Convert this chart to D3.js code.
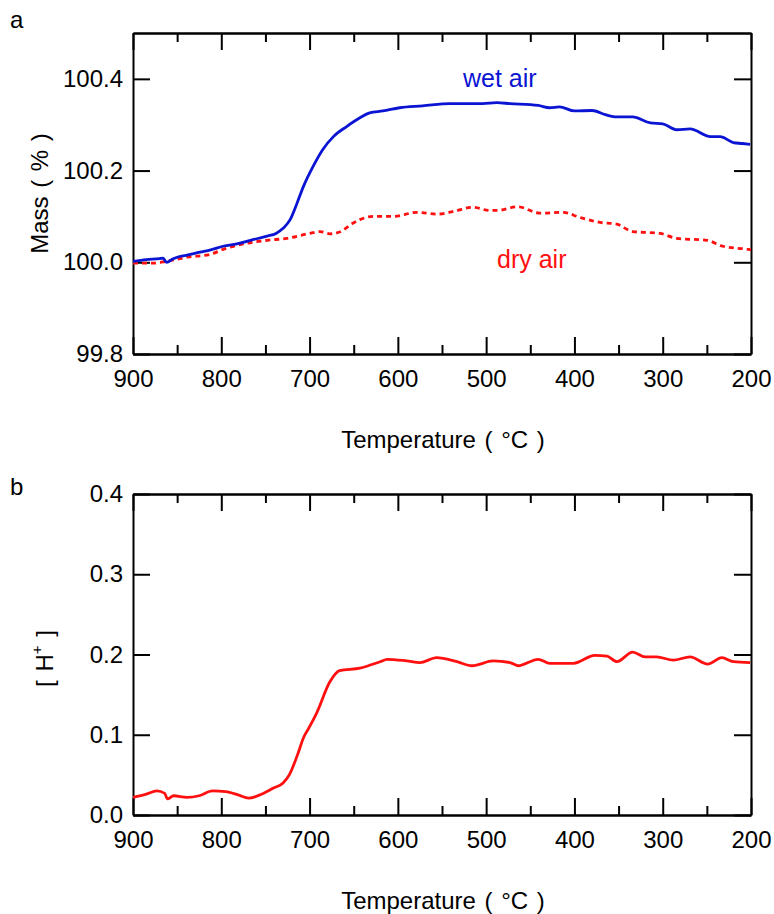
<!DOCTYPE html>
<html lang="en">
<head>
<meta charset="UTF-8">
<title>Mass and proton concentration vs temperature</title>
<script src="https://cdn.jsdelivr.net/npm/d3@7"></script>
<style>
    body { margin: 0; background: #fff; }
    svg { display: block; font-family: "Liberation Sans", Arial, sans-serif; }
</style>
</head>
<body>
<div id="chart"></div>
<script>

    // Panel a: mass (%) in wet air and dry air
    const wetTemp = [900, 885, 870, 866, 862, 855, 850, 840, 824, 812, 798, 780, 767, 748, 738, 730, 722, 714, 707,
        696, 685, 673, 658, 643, 632, 617, 598, 572, 541, 504, 488, 473, 441, 428, 417, 400, 380, 365, 352, 334,
        314, 300, 284, 269, 246, 235, 220, 210, 201];
    const wetMass = [100.002, 100.006, 100.008, 100.009, 100.000, 100.007, 100.011, 100.015, 100.022, 100.027,
        100.035, 100.041, 100.048, 100.057, 100.063, 100.074, 100.093, 100.130, 100.165, 100.209, 100.246, 100.274,
        100.296, 100.315, 100.326, 100.330, 100.337, 100.341, 100.346, 100.346, 100.348, 100.346, 100.342, 100.337,
        100.339, 100.330, 100.331, 100.322, 100.317, 100.317, 100.304, 100.302, 100.289, 100.291, 100.274, 100.274,
        100.261, 100.259, 100.257];

    const dryTemp = [900, 877, 862, 839, 813, 798, 775, 748, 726, 700, 688, 677, 666, 651, 643, 628, 605, 578, 556,
        537, 515, 496, 488, 464, 439, 413, 394, 371, 352, 334, 303, 284, 250, 232, 203, 200];
    const dryMass = [99.998, 99.998, 100.002, 100.011, 100.017, 100.028, 100.040, 100.048, 100.052, 100.063,
        100.067, 100.062, 100.066, 100.085, 100.093, 100.100, 100.100, 100.109, 100.105, 100.111, 100.120, 100.113,
        100.113, 100.121, 100.107, 100.109, 100.098, 100.087, 100.083, 100.067, 100.063, 100.052, 100.048, 100.035,
        100.028, 100.027];

    // Panel b: [H+]
    const hTemp = [900, 885, 873, 864, 861, 854, 839, 825, 810, 795, 781, 769, 752, 742, 730, 723, 713, 707, 701,
        692, 677, 666, 643, 620, 612, 590, 575, 556, 533, 516, 492, 473, 464, 441, 428, 401, 377, 363, 352, 334,
        320, 307, 288, 269, 249, 233, 220, 201];
    const hConc = [0.022, 0.026, 0.030, 0.027, 0.020, 0.024, 0.022, 0.024, 0.030, 0.029, 0.025, 0.021, 0.027,
        0.033, 0.040, 0.050, 0.077, 0.096, 0.108, 0.127, 0.166, 0.180, 0.183, 0.191, 0.194, 0.192, 0.190, 0.196,
        0.191, 0.186, 0.192, 0.190, 0.186, 0.194, 0.189, 0.189, 0.199, 0.198, 0.191, 0.203, 0.197, 0.197, 0.193,
        0.197, 0.188, 0.196, 0.191, 0.190];

    // ticks
    const tempMajor = [900, 800, 700, 600, 500, 400, 300, 200];
    const tempMinor = [850, 750, 650, 550, 450, 350, 250];
    const massTicks = [99.8, 100.0, 100.2, 100.4];
    const hTicks = [0.0, 0.1, 0.2, 0.3, 0.4];

    const width = 774, height = 914;
    const left = 133, right = 751;
    const fontSize = 24;

    const svg = d3.select("#chart").append("svg")
        .attr("width", width)
        .attr("height", height);

    const x = d3.scaleLinear().domain([900, 200]).range([left, right]);

    function panel(cfg) {
        const y = d3.scaleLinear().domain(cfg.domain).range([cfg.bottom, cfg.top]);
        const g = svg.append("g");

        const styleAxis = sel => {
            sel.selectAll("path, line").attr("stroke", "#000").attr("stroke-width", 2);
            sel.selectAll("text").attr("font-size", fontSize).attr("fill", "#000")
                .attr("font-family", "Liberation Sans, Arial, sans-serif");
        };

        // x axes (bottom with labels, top mirrored), ticks inward
        g.append("g").attr("transform", `translate(0,${cfg.bottom})`)
            .call(d3.axisBottom(x).tickValues(tempMajor).tickSize(-17).tickSizeOuter(0).tickPadding(16)
                .tickFormat(d3.format("d")))
            .call(styleAxis);
        g.append("g").attr("transform", `translate(0,${cfg.bottom})`)
            .call(d3.axisBottom(x).tickValues(tempMinor).tickSize(-9).tickSizeOuter(0).tickFormat(""))
            .call(styleAxis);
        g.append("g").attr("transform", `translate(0,${cfg.top})`)
            .call(d3.axisTop(x).tickValues(tempMajor).tickSize(-17).tickSizeOuter(0).tickFormat(""))
            .call(styleAxis);
        g.append("g").attr("transform", `translate(0,${cfg.top})`)
            .call(d3.axisTop(x).tickValues(tempMinor).tickSize(-9).tickSizeOuter(0).tickFormat(""))
            .call(styleAxis);

        // y axes
        g.append("g").attr("transform", `translate(${left},0)`)
            .call(d3.axisLeft(y).tickValues(cfg.ticks).tickSize(-17).tickSizeOuter(0).tickPadding(10)
                .tickFormat(d3.format(".1f")))
            .call(styleAxis);
        g.append("g").attr("transform", `translate(${right},0)`)
            .call(d3.axisRight(y).tickValues(cfg.ticks).tickSize(-17).tickSizeOuter(0).tickFormat(""))
            .call(styleAxis);

        // x title
        g.append("text")
            .attr("x", (left + right) / 2 + 1)
            .attr("y", cfg.bottom + 94)
            .attr("text-anchor", "middle")
            .attr("font-size", fontSize)
            .attr("word-spacing", 2)
            .text("Temperature ( °C )");

        // panel letter
        g.append("text")
            .attr("x", 10)
            .attr("y", cfg.letterY)
            .attr("font-size", fontSize)
            .text(cfg.letter);

        return {g, y};
    }

    // ---- panel a ----
    const a = panel({domain: [99.8, 100.5], top: 33, bottom: 354, ticks: massTicks, letter: "a", letterY: 28});

    const lineA = d3.line().x(d => x(d[0])).y(d => a.y(d[1])).curve(d3.curveMonotoneX);

    a.g.append("path")
        .datum(d3.zip(dryTemp, dryMass))
        .attr("fill", "none")
        .attr("stroke", "#ff1010")
        .attr("stroke-width", 2.8)
        .attr("stroke-dasharray", "5,4")
        .attr("d", lineA);

    a.g.append("path")
        .datum(d3.zip(wetTemp, wetMass))
        .attr("fill", "none")
        .attr("stroke", "#0a14d2")
        .attr("stroke-width", 2.8)
        .attr("d", lineA);

    a.g.append("text")
        .attr("x", 463).attr("y", 87)
        .attr("font-size", 25)
        .attr("fill", "#0a14d2")
        .text("wet air");

    a.g.append("text")
        .attr("x", 497).attr("y", 268)
        .attr("font-size", 25)
        .attr("fill", "#ff1010")
        .text("dry air");

    a.g.append("text")
        .attr("transform", `translate(48,${(33 + 354) / 2}) rotate(-90)`)
        .attr("text-anchor", "middle")
        .attr("font-size", fontSize)
        .attr("word-spacing", 2)
        .text("Mass ( % )");

    // ---- panel b ----
    const b = panel({domain: [0, 0.4], top: 494, bottom: 815, ticks: hTicks, letter: "b", letterY: 495});

    const lineB = d3.line().x(d => x(d[0])).y(d => b.y(d[1])).curve(d3.curveMonotoneX);

    b.g.append("path")
        .datum(d3.zip(hTemp, hConc))
        .attr("fill", "none")
        .attr("stroke", "#ff1010")
        .attr("stroke-width", 2.8)
        .attr("d", lineB);

    const hLabel = b.g.append("text")
        .attr("transform", `translate(53,${(494 + 815) / 2 + 4}) rotate(-90)`)
        .attr("text-anchor", "middle")
        .attr("font-size", fontSize)
        .attr("word-spacing", 2);
    hLabel.append("tspan").text("[ H");
    hLabel.append("tspan").attr("font-size", 15).attr("dy", -11).text("+");
    hLabel.append("tspan").attr("dy", 11).text(" ]");

</script>
</body>
</html>
